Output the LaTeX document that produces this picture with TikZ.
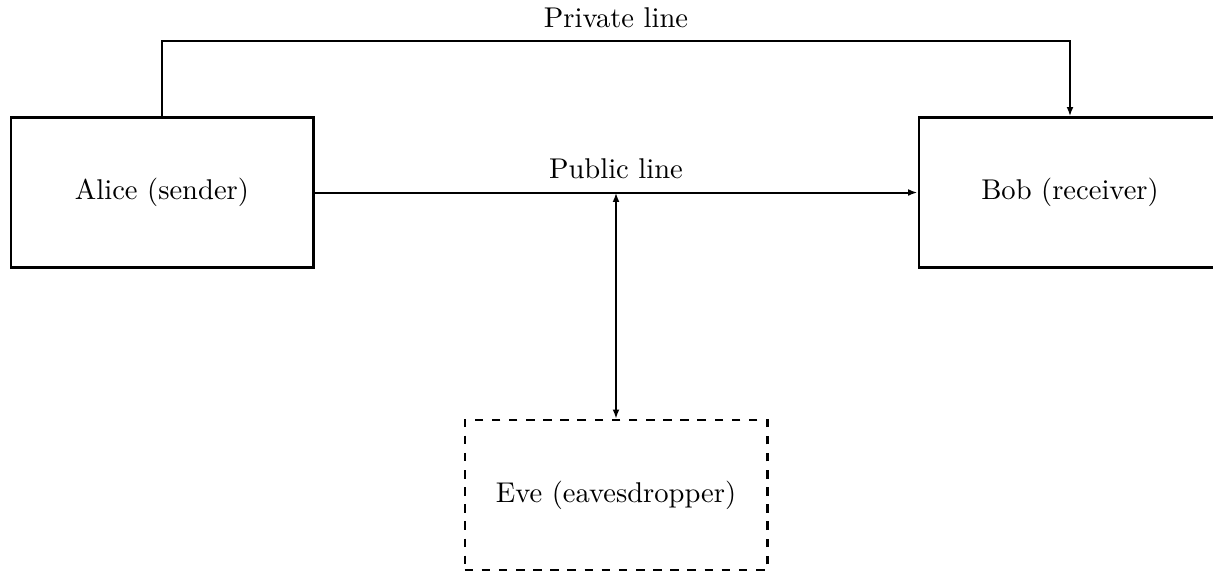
\documentclass[tikz,border=0pt]{standalone}
\usetikzlibrary{arrows.meta}
\begin{document}
\begin{tikzpicture}[x=0.35pt,y=-0.35pt,
  party/.style={draw,line width=0.75pt,rectangle,minimum width=106pt,minimum height=52.5pt,inner sep=0pt},
  spy/.style={party,dashed},
  conn/.style={line width=0.7pt},
  tip/.style={-{Latex[length=3.3pt,width=2.4pt]}},
  dtip/.style={{Latex[length=3.3pt,width=2.4pt]}-{Latex[length=3.3pt,width=2.4pt]}}]
\useasboundingbox (0,0) rectangle (1213,571);
\node[party] (alice) at (162,192.5) {Alice (sender)};
\node[party] (bob) at (1070,192.5) {Bob (receiver)};
\node[spy] (eve) at (616,495) {Eve (eavesdropper)};
\coordinate (top) at (616,41);
\draw[conn,tip] (alice.north) |- (top) -| (bob.north);
\node[above=1pt] (privlbl) at (top) {Private line};
\draw[conn,tip] (alice.east) -- (bob.west) node[midway,above=1pt] (publbl) {Public line};
\coordinate (tap) at (eve.north |- alice.east);
\draw[conn,dtip] (tap) -- (eve.north);
\end{tikzpicture}
\end{document}
